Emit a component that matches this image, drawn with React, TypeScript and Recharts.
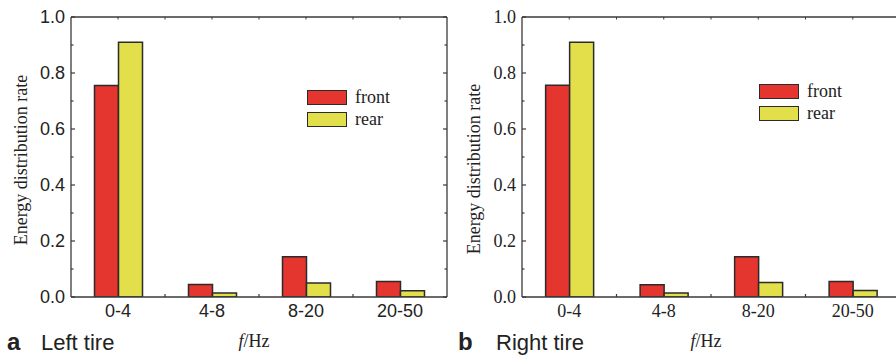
import { BarChart, Bar, XAxis, YAxis, Legend } from 'recharts';

const BANDS = ['0-4', '4-8', '8-20', '20-50'];
const LEFT_FRONT = [0.755, 0.045, 0.144, 0.055];
const LEFT_REAR = [0.91, 0.014, 0.05, 0.022];
const RIGHT_FRONT = [0.756, 0.044, 0.144, 0.055];
const RIGHT_REAR = [0.91, 0.014, 0.052, 0.023];
const Y_TICKS = [0, 0.1, 0.2, 0.3, 0.4, 0.5, 0.6, 0.7, 0.8, 0.9, 1.0];
const Y_LABELS = ['0.0', '', '0.2', '', '0.4', '', '0.6', '', '0.8', '', '1.0'];
const SERIES = ['front', 'rear'];

const RED = '#e5352f';
const YELLOW = '#e3df4a';
const EDGE = '#2b2b2b';
const AXIS = '#3a3a3a';
const INK = '#222';
const SANS = '"Liberation Sans", Arial, sans-serif';
const SERIF = '"Liberation Serif", "Times New Roman", serif';

const toRows = (front: number[], rear: number[]) =>
  BANDS.map((band, i) => ({ band, front: front[i], rear: rear[i] }));

// left axis: labels on majors, short inward ticks on every 0.1
function leftTick(p: any, font: string) {
  const ax = p.x + 6;
  const label = Y_LABELS[Y_TICKS.indexOf(p.payload.value)];
  const len = label ? 4 : 2.5;
  return (
    <g>
      <line x1={ax} x2={ax + len} y1={p.y} y2={p.y} stroke={AXIS} strokeWidth={1.2} />
      {label && (
        <text x={p.x} y={p.y} dy="0.36em" textAnchor="end" fontFamily={font} fontSize={18} fill={INK}>
          {label}
        </text>
      )}
    </g>
  );
}

function rightTick(p: any) {
  const label = Y_LABELS[Y_TICKS.indexOf(p.payload.value)];
  const len = label ? 4 : 2.5;
  return <line x1={p.x} x2={p.x - len} y1={p.y} y2={p.y} stroke={AXIS} strokeWidth={1.2} />;
}

function bottomTick(p: any, font: string) {
  const half = p.payload.offset ?? 47;
  const last = p.payload.value === BANDS[BANDS.length - 1];
  return (
    <g>
      {!last && (
        <line x1={p.x + half} x2={p.x + half} y1={p.y} y2={p.y - 3} stroke={AXIS} strokeWidth={1.2} />
      )}
      <text x={p.x} y={p.y + 20} textAnchor="middle" fontFamily={font} fontSize={18} fill={INK}>
        {p.payload.value}
      </text>
    </g>
  );
}

function topTick(p: any) {
  const half = p.payload.offset ?? 47;
  const last = p.payload.value === BANDS[BANDS.length - 1];
  return (
    <g>
      <line x1={p.x} x2={p.x} y1={p.y} y2={p.y + 2.5} stroke={AXIS} strokeWidth={1} />
      {!last && <line x1={p.x + half} x2={p.x + half} y1={p.y} y2={p.y + 2.5} stroke={AXIS} strokeWidth={1} />}
    </g>
  );
}

function LegendBox() {
  return (
    <div style={{ fontFamily: SERIF, fontSize: 18, color: INK }}>
      {SERIES.map((name, i) => (
        <div key={name} style={{ display: 'flex', alignItems: 'center', height: 22 }}>
          <span
            style={{
              display: 'inline-block',
              width: 40,
              height: 15,
              boxSizing: 'border-box',
              border: `1.5px solid ${EDGE}`,
              background: i ? YELLOW : RED,
              marginRight: 8,
            }}
          />
          {name}
        </div>
      ))}
    </div>
  );
}

interface PanelProps {
  rows: Array<{ band: string; front: number; rear: number }>;
  width: number;
  marginLeft: number;
  font: string;
  labelX: number;
  labelY: number;
  unitX: number;
  legendLeft: number;
  legendTop: number;
}

function Panel({ rows, width, marginLeft, font, labelX, labelY, unitX, legendLeft, legendTop }: PanelProps) {
  const axisLine = { stroke: AXIS, strokeWidth: 1.3 };
  return (
    <BarChart
      width={width}
      height={356}
      data={rows}
      margin={{ top: 16, right: 0, bottom: 29, left: marginLeft }}
      barCategoryGap="25%"
      barGap={0}
    >
      <XAxis
        dataKey="band"
        height={30}
        interval={0}
        tickSize={0}
        tickMargin={0}
        tickLine={false}
        axisLine={axisLine}
        tick={(p: any) => bottomTick(p, font)}
        label={{
          content: () => (
            <text x={unitX} y={347} textAnchor="middle" fontFamily={SERIF} fontSize={18} fill={INK}>
              <tspan fontStyle="italic">f</tspan>/Hz
            </text>
          ),
        }}
      />
      <XAxis
        xAxisId="top"
        orientation="top"
        dataKey="band"
        height={1}
        interval={0}
        tickSize={0}
        tickMargin={0}
        tickLine={false}
        axisLine={axisLine}
        tick={topTick}
      />
      <YAxis
        type="number"
        domain={[0, 1]}
        ticks={Y_TICKS}
        interval={0}
        width={50}
        tickSize={0}
        tickMargin={6}
        tickLine={false}
        axisLine={axisLine}
        allowDataOverflow
        tick={(p: any) => leftTick(p, font)}
        label={{
          content: () => (
            <text
              x={labelX}
              y={labelY}
              transform={`rotate(-90 ${labelX} ${labelY})`}
              textAnchor="middle"
              dominantBaseline="central"
              fontFamily={SERIF}
              fontSize={18}
              fill={INK}
            >
              Energy distribution rate
            </text>
          ),
        }}
      />
      <YAxis
        yAxisId="right"
        orientation="right"
        type="number"
        domain={[0, 1]}
        ticks={Y_TICKS}
        interval={0}
        width={1}
        tickSize={0}
        tickMargin={0}
        tickLine={false}
        axisLine={axisLine}
        allowDataOverflow
        tick={rightTick}
      />
      <Legend
        layout="horizontal"
        verticalAlign="middle"
        align="center"
        content={() => <LegendBox />}
        wrapperStyle={{ left: legendLeft, top: legendTop, width: 'auto', height: 'auto' }}
      />
      <Bar dataKey="front" fill={RED} stroke={EDGE} strokeWidth={1.5} isAnimationActive={false} />
      <Bar dataKey="rear" fill={YELLOW} stroke={EDGE} strokeWidth={1.5} isAnimationActive={false} />
    </BarChart>
  );
}

export default function App() {
  return (
    <div
      style={{
        position: 'absolute',
        left: 0,
        top: 0,
        width: 896,
        height: 356,
        overflow: 'hidden',
        background: '#fff',
      }}
    >
      <div style={{ position: 'absolute', left: 0, top: 0 }}>
        <Panel
          rows={toRows(LEFT_FRONT, LEFT_REAR)}
          width={448}
          marginLeft={21}
          font={SANS}
          labelX={20.5}
          labelY={160}
          unitX={254}
          legendLeft={307}
          legendTop={86.5}
        />
      </div>
      <div style={{ position: 'absolute', left: 448, top: 0 }}>
        <Panel
          rows={toRows(RIGHT_FRONT, RIGHT_REAR)}
          width={453}
          marginLeft={24}
          font={SERIF}
          labelX={26}
          labelY={169}
          unitX={258}
          legendLeft={311}
          legendTop={80}
        />
      </div>
      <svg
        width={896}
        height={356}
        style={{ position: 'absolute', left: 0, top: 0, pointerEvents: 'none' }}
      >
        <g fontFamily={SANS} fill={INK}>
          <text x={7} y={350} fontSize={24} fontWeight="bold">a</text>
          <text x={41} y={350} fontSize={22}>Left tire</text>
          <text x={458} y={350} fontSize={24} fontWeight="bold">b</text>
          <text x={496} y={350} fontSize={22}>Right tire</text>
        </g>
      </svg>
    </div>
  );
}
